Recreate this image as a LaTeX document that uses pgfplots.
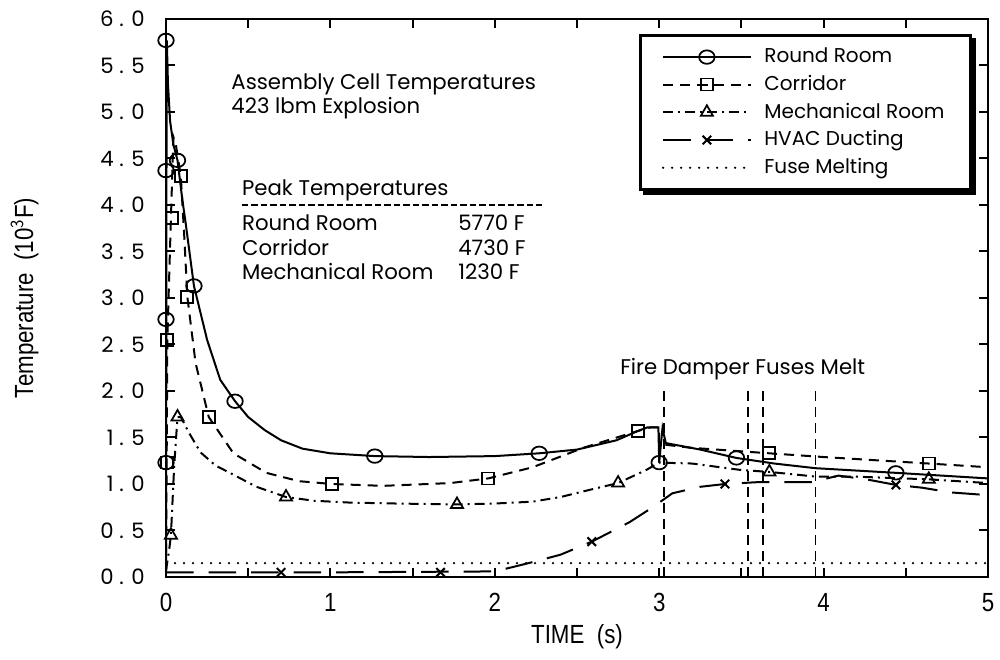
\documentclass[border=0pt]{standalone}
\usepackage{graphicx}
\usepackage{pgfplots}
\pgfplotsset{compat=1.18}
\usepackage{fontspec}
\setmainfont{Poppins}
\newfontfamily\narrowfont{Liberation Sans}

\newcommand{\hfont}{\fontsize{8.5}{10}\selectfont}
\newcommand{\lfont}{\fontsize{8}{9.5}\selectfont}
\newcommand{\nfont}{\narrowfont\fontsize{10.5}{12}\selectfont}

\begin{document}
\begin{tikzpicture}

\begin{axis}[%
name=ax,%
width=328.8pt,height=223.2pt,%
scale only axis,%
clip=false,%
xmin=0,xmax=5,ymin=0,ymax=6,%
axis line style={line width=1pt},%
tick align=inside,%
xtick pos=both,ytick pos=both,%
xticklabel pos=lower,yticklabel pos=left,%
major tick length=3.6pt,minor tick length=3.6pt,%
every tick/.style={black,line width=0.8pt},%
xtick={0,1,2,3,4,5},%
xticklabels={\scalebox{0.85}[1]{0},\scalebox{0.85}[1]{1},\scalebox{0.85}[1]{2},\scalebox{0.85}[1]{3},\scalebox{0.85}[1]{4},\scalebox{0.85}[1]{5}},%
minor xtick={0.5,1.5,2.5,3.5,4.5},%
ytick={0,0.5,1,1.5,2,2.5,3,3.5,4,4.5,5,5.5,6},%
yticklabels={0 . 0,0 . 5,1 . 0,1 . 5,2 . 0,2 . 5,3 . 0,3 . 5,4 . 0,4 . 5,5 . 0,5 . 5,6 . 0},%
xticklabel style={font=\nfont,yshift=-3pt},%
yticklabel style={font=\hfont,xshift=-5pt},%
every axis x label/.style={at={(rel axis cs:0.5,-0.1075)},anchor=center},%
every axis y label/.style={at={(rel axis cs:-0.172,0.5)},anchor=center,rotate=90},%
xlabel={\scalebox{0.85}[1]{\nfont TIME\ \ (s)}},%
ylabel={\scalebox{0.85}[1]{\nfont Temperature\ \ (10$^{\mathsf{3}}$F)}},%
legend image code/.code={\draw[mark repeat=2,mark phase=2,#1] plot coordinates {(0pt,0pt) (17.5pt,0pt) (35pt,0pt)};},%
legend style={name=leg,at={(rel axis cs:0.9805,0.973)},anchor=north east,%
  draw=black,line width=1pt,fill=white,font=\lfont,%
  inner xsep=8.5pt,inner ysep=3pt,row sep=-0.5pt,%
  /tikz/every odd column/.append style={column sep=3pt}},%
legend cell align=left]%

% Round Room
\addplot [black,solid,line width=0.8pt,forget plot] coordinates{
(0,0.07) (0.001,1.23) (0.002,2.77) (0.003,4.37) (0.005,5.77) (0.012,5.3)
(0.025,4.9) (0.045,4.65) (0.07,4.48) (0.10,4.05) (0.12,3.8) (0.17,3.13)
(0.25,2.55) (0.33,2.12) (0.42,1.89) (0.5,1.72) (0.6,1.58) (0.7,1.47)
(0.83,1.38) (1.0,1.33) (1.27,1.30) (1.6,1.29) (2.0,1.30) (2.27,1.33)
(2.5,1.37) (2.74,1.47) (2.87,1.57) (2.93,1.61) (2.995,1.61) (3.0,1.23)
(3.01,1.42) (3.02,1.60) (3.04,1.44) (3.25,1.37) (3.47,1.28) (3.7,1.22)
(3.95,1.17) (4.44,1.12) (5.0,1.06)
};
\addplot [black,only marks,mark=o,mark size=2.7pt,mark options={solid,line width=0.7pt,xscale=1.15},forget plot] coordinates{
(0,5.77) (0,4.37) (0,2.77) (0,1.23) (0.07,4.48) (0.17,3.13) (0.42,1.89)
(1.27,1.30) (2.27,1.33) (3.0,1.23) (3.47,1.28) (4.44,1.12)
};

% Corridor
\addplot [black,dash pattern=on 4pt off 2.8pt,line width=0.8pt,forget plot] coordinates{
(0,0.07) (0.004,1.23) (0.008,2.55) (0.03,3.86) (0.045,4.73) (0.06,4.65)
(0.09,4.31) (0.11,3.7) (0.13,3.01) (0.18,2.3) (0.26,1.72) (0.41,1.33)
(0.61,1.12) (0.81,1.03) (1.01,1.00) (1.32,0.98) (1.73,1.01) (1.96,1.06)
(2.23,1.18) (2.54,1.39) (2.87,1.57) (2.95,1.61) (3.0,1.61) (3.0,1.43)
(3.19,1.39) (3.67,1.33) (4.0,1.29) (4.64,1.22) (5.0,1.18)
};
\addplot [black,only marks,mark=square,mark size=2.4pt,mark options={solid,line width=0.7pt},forget plot] coordinates{
(0.004,1.23) (0.008,2.55) (0.035,3.86) (0.09,4.31) (0.13,3.01) (0.26,1.72)
(1.01,1.00) (1.96,1.06) (2.87,1.57) (3.67,1.33) (4.64,1.22)
};

% Mechanical Room
\addplot [black,dash pattern=on 4pt off 2pt on 0.8pt off 2pt,line width=0.8pt,forget plot] coordinates{
(0,0.07) (0.02,0.3) (0.03,0.45) (0.05,1.2) (0.07,1.72) (0.09,1.72)
(0.14,1.55) (0.21,1.34) (0.3,1.2) (0.41,1.10) (0.55,0.97) (0.73,0.86)
(0.9,0.82) (1.12,0.80) (1.4,0.79) (1.77,0.78) (2.0,0.79) (2.23,0.81)
(2.4,0.86) (2.56,0.93) (2.75,1.01) (2.92,1.15) (3.0,1.23) (3.2,1.22)
(3.5,1.15) (3.67,1.13) (3.95,1.08) (4.18,1.08) (4.64,1.05) (5.0,1.01)
};
\addplot [black,only marks,mark=triangle,mark size=2.8pt,mark options={solid,line width=0.7pt},forget plot] coordinates{
(0.03,0.45) (0.07,1.72) (0.73,0.86) (1.77,0.78) (2.75,1.01) (3.67,1.13) (4.64,1.05)
};

% HVAC Ducting
\addplot [black,dash pattern=on 11pt off 6pt,line width=0.8pt,forget plot] coordinates{
(0,0.05) (1.0,0.05) (2.0,0.06) (2.07,0.09) (2.23,0.16) (2.4,0.24)
(2.59,0.38) (2.82,0.59) (2.96,0.75) (3.08,0.90) (3.25,0.97) (3.4,1.0)
(3.6,1.02) (3.93,1.02) (4.09,1.09) (4.26,1.05) (4.44,0.99) (4.6,0.96)
(4.77,0.91) (5.0,0.88)
};
\addplot [black,only marks,mark=x,mark size=2.4pt,mark options={solid,line width=0.8pt},forget plot] coordinates{
(0.7,0.05) (1.67,0.05) (2.59,0.38) (3.4,1.0) (4.44,0.99)
};

% Fuse Melting
\addplot [black,line width=1pt,line cap=round,dash pattern=on 0pt off 3.6pt,forget plot] coordinates{
(0,0.15) (5,0.15)
};

% fire damper fuse melt times
\addplot [black,dash pattern=on 4pt off 2.4pt,line width=0.7pt,forget plot] coordinates{(3.03,0) (3.03,2.0)};
\addplot [black,dash pattern=on 4pt off 2.4pt,line width=0.7pt,forget plot] coordinates{(3.54,0) (3.54,2.0)};
\addplot [black,dash pattern=on 4pt off 2.4pt,line width=0.7pt,forget plot] coordinates{(3.63,0) (3.63,2.0)};
\addplot [black,dash pattern=on 4pt off 2.4pt,line width=0.7pt,forget plot] coordinates{(3.95,0) (3.95,2.0)};

\addlegendimage{black,solid,line width=0.8pt,mark=o,mark size=2.7pt,mark options={solid,line width=0.7pt,xscale=1.15}}
\addlegendentry{Round Room}
\addlegendimage{black,dash pattern=on 4pt off 2.8pt,line width=0.8pt,mark=square,mark size=2.4pt,mark options={solid,line width=0.7pt}}
\addlegendentry{Corridor}
\addlegendimage{black,dash pattern=on 4pt off 2pt on 0.8pt off 2pt,line width=0.8pt,mark=triangle,mark size=2.8pt,mark options={solid,line width=0.7pt}}
\addlegendentry{Mechanical Room}
\addlegendimage{black,dash pattern=on 11pt off 6pt,line width=0.8pt,mark=x,mark size=2.4pt,mark options={solid,line width=0.8pt}}
\addlegendentry{HVAC Ducting}
\addlegendimage{black,line width=1pt,line cap=round,dash pattern=on 0pt off 3.6pt}
\addlegendentry{Fuse Melting}

\node[anchor=west,font=\hfont,inner sep=0pt] at (axis cs:0.395,5.30) {Assembly\ Cell\ Temperatures};
\node[anchor=west,font=\hfont,inner sep=0pt] at (axis cs:0.395,5.04) {423\ lbm\ Explosion};
\node[anchor=west,font=\hfont,inner sep=0pt] at (axis cs:0.46,4.16) {Peak Temperatures};
\draw[black,line width=0.6pt,dash pattern=on 2.6pt off 1.2pt] (axis cs:0.46,4.0) -- (axis cs:2.29,4.0);
\node[anchor=west,font=\hfont,inner sep=0pt] at (axis cs:0.46,3.81) {Round Room};
\node[anchor=west,font=\hfont,inner sep=0pt] at (axis cs:0.46,3.54) {Corridor};
\node[anchor=west,font=\hfont,inner sep=0pt] at (axis cs:0.46,3.28) {Mechanical Room};
\node[anchor=west,font=\hfont,inner sep=0pt] at (axis cs:1.775,3.81) {5770 F};
\node[anchor=west,font=\hfont,inner sep=0pt] at (axis cs:1.775,3.54) {4730 F};
\node[anchor=west,font=\hfont,inner sep=0pt] at (axis cs:1.775,3.28) {1230 F};
\node[anchor=west,font=\hfont,inner sep=0pt] at (axis cs:2.76,2.23) {Fire Damper Fuses Melt};

\end{axis}

% legend drop shadow
\fill[black] ([shift={(0pt,-1.6pt)}]leg.north east) rectangle ([shift={(1.8pt,-1.8pt)}]leg.south east);
\fill[black] ([shift={(1.6pt,0pt)}]leg.south west) rectangle ([shift={(1.8pt,-1.8pt)}]leg.south east);

\pgfresetboundingbox
\path[use as bounding box] ([shift={(-66.4pt,-33.2pt)}]ax.south west) rectangle ([shift={(4.8pt,7.6pt)}]ax.north east);

\end{tikzpicture}
\end{document}
